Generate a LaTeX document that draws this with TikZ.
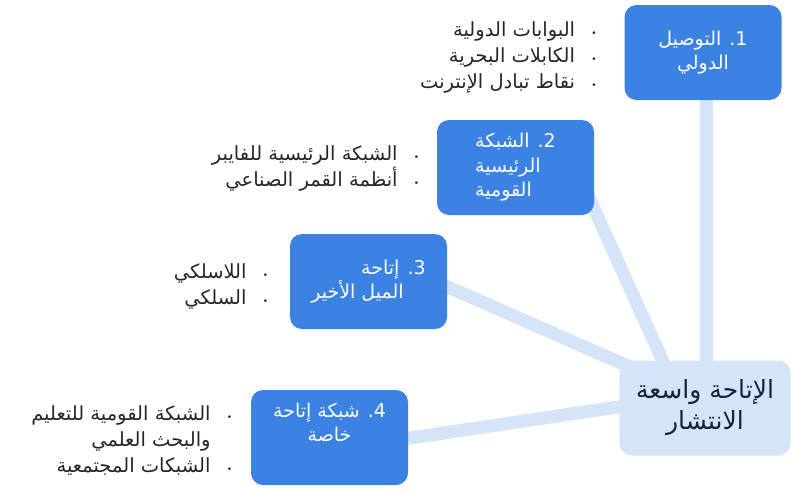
\documentclass[tikz,border=0pt]{standalone}
\usepackage{fontspec}
\newfontfamily\arabicfont[Script=Arabic]{DejaVu Sans}
\TeXXeTstate=1
\usetikzlibrary{positioning, backgrounds}
\definecolor{boxblue}{HTML}{3B82E2}
\definecolor{linkblue}{HTML}{D6E4F8}
\definecolor{hubtext}{HTML}{14233F}
\tikzset{
  topic/.style={rectangle, rounded corners=12pt, minimum width=157pt, minimum height=95pt, fill=boxblue, text=white, inner sep=4pt, font=\arabicfont\fontsize{19}{24.5}\selectfont},
  hub/.style={rectangle, rounded corners=12pt, minimum width=171pt, minimum height=95pt, fill=linkblue, text=hubtext, align=center, font=\arabicfont\fontsize{25}{31}\selectfont},
  items/.style={align=right, inner sep=0pt, text=black!85, font=\arabicfont\fontsize{19.5}{26}\selectfont},
  link/.style={line width=13pt, draw=linkblue}
}
\newcommand{\rtl}[1]{\beginR #1\endR}
\newcommand{\itm}[1]{\beginR\makebox[38pt]{\fontsize{9}{9}\selectfont•}#1\endR}

\begin{document}
\begin{tikzpicture}[x=1pt, y=-1pt]
\useasboundingbox (0,0) rectangle (791,488);
% centre and the four topics
\node (hub) [hub] at (705,408) {\rtl{الإتاحة واسعة}\\\rtl{الانتشار}};
\node (b1) [topic, align=center] at (703,52.5) {\rtl{1. التوصيل}\\\rtl{الدولي}};
\node (b2) [topic, align=left] at (515.5,167.5) {\rtl{2. الشبكة}\\\rtl{الرئيسية}\\\rtl{القومية}};
\node (b3) [topic, align=right] at (368.5,281.5) {\rtl{3. إتاحة}\\\rtl{\hspace*{22pt}الميل الأخير}};
\node (b4) [topic, align=center, text depth=30pt] at (329.5,437.5) {\rtl{4. شبكة إتاحة}\\\rtl{خاصة}};

% bullet lists
\node (l1) [items, left=11pt of b1, yshift=-5pt] {\itm{البوابات الدولية}\\\itm{الكابلات البحرية}\\\itm{نقاط تبادل الإنترنت}};
\node (l2) [items, left=1pt of b2, yshift=-1pt] {\itm{الشبكة الرئيسية للفايبر}\\\itm{أنظمة القمر الصناعي}};
\node (l3) [items, left=5pt of b3, yshift=-5pt] {\itm{اللاسلكي}\\\itm{السلكي}};
\node (l4) [items, left=2pt of b4, yshift=-3pt] {\itm{الشبكة القومية للتعليم}\\\rtl{\hspace*{38pt}والبحث العلمي}\\\itm{الشبكات المجتمعية}};

\begin{pgfonlayer}{background}
\draw [link] ([xshift=3pt]b1.center) -- ([xshift=1pt]hub.center);
\draw [link] ([xshift=60pt]b2.center) -- ([xshift=-21pt]hub.center);
\draw [link] ([yshift=29.5pt]b3.center) -- ([yshift=8pt]hub.center);
\draw [link] ([yshift=-12.5pt]b4.center) -- ([yshift=14pt]hub.center);
\end{pgfonlayer}
\end{tikzpicture}
\end{document}
